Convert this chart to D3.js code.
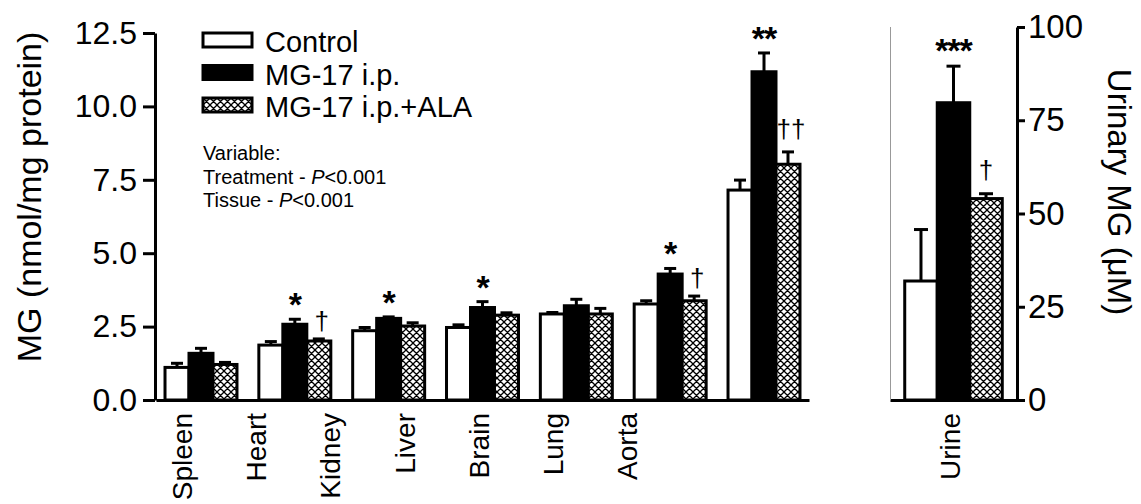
<!DOCTYPE html>
<html>
<head>
<meta charset="utf-8">
<script src="https://cdn.jsdelivr.net/npm/d3@7"></script>
<style>
  body { margin: 0; background: #fff; }
  svg text { font-family: "Liberation Sans", Arial, sans-serif; fill: #000; }
</style>
</head>
<body>
<svg id="chart" width="1141" height="504"></svg>
<script>
// tissue panel (nmol/mg protein)
const tissues = ["Spleen", "Heart", "Kidney", "Liver", "Brain", "Lung", "Aorta"];
const groups = ["Control", "MG-17 i.p.", "MG-17 i.p.+ALA"];
const controlMean = [1.11, 1.87, 2.36, 2.47, 2.93, 3.27, 7.15];
const controlErr  = [0.14, 0.12, 0.11, 0.09, 0.05, 0.11, 0.34];
const mgMean      = [1.59, 2.58, 2.78, 3.15, 3.21, 4.29, 11.18];
const mgErr       = [0.17, 0.17, 0.05, 0.20, 0.22, 0.19, 0.64];
const alaMean     = [1.21, 2.01, 2.52, 2.89, 2.93, 3.38, 8.03];
const alaErr      = [0.07, 0.07, 0.11, 0.08, 0.19, 0.16, 0.42];
const tissueStars   = ["", "*", "*", "*", "", "*", "**"];
const tissueDaggers = ["", "†", "", "", "", "†", "††"];
const leftTicks = [0, 2.5, 5, 7.5, 10, 12.5];

// urine panel (uM)
const urineCats = ["Urine"];
const urineMean = [31.9, 79.7, 54.0];
const urineErr  = [13.8, 9.8, 1.3];
const urineStars = "***";
const urineDagger = "†";
const rightTicks = [0, 25, 50, 75, 100];

const notes = ["Variable:", "Treatment - ", "Tissue - "];

const svg = d3.select("#chart");

// cross hatch for the ALA bars
const pat = svg.append("defs").append("pattern")
  .attr("id", "hatch")
  .attr("patternUnits", "userSpaceOnUse")
  .attr("width", 7).attr("height", 7);
pat.append("rect").attr("width", 7).attr("height", 7).attr("fill", "#fff");
pat.append("path")
  .attr("d", "M0,0L7,7M7,0L0,7M-1,6L1,8M6,-1L8,1")
  .attr("stroke", "#000").attr("stroke-width", 1.3);

const fills = ["#fff", "#000", "url(#hatch)"];

// scales
const y = d3.scaleLinear().domain([0, 12.5]).range([400, 33]);
const x0 = d3.scaleBand().domain(tissues).range([156, 809]).paddingInner(0.233).paddingOuter(0.096);
const x1 = d3.scaleBand().domain(groups).range([0, x0.bandwidth()]);
const xLab = d3.scalePoint().domain(tissues).range([192, 637]);

const yU = d3.scaleLinear().domain([0, 100]).range([400, 27]);
const u0 = d3.scaleBand().domain(urineCats).range([890, 1017]).paddingOuter(0.151);
const u1 = d3.scaleBand().domain(groups).range([0, u0.bandwidth()]);

// build rows
var rows = [];
tissues.forEach(function(t, i) {
  rows.push({cat: t, g: groups[0], v: controlMean[i], e: controlErr[i], k: 0});
  rows.push({cat: t, g: groups[1], v: mgMean[i], e: mgErr[i], k: 1});
  rows.push({cat: t, g: groups[2], v: alaMean[i], e: alaErr[i], k: 2});
});
var urows = groups.map(function(g, k) {
  return {cat: "Urine", g: g, v: urineMean[k], e: urineErr[k], k: k};
});

function drawBars(data, xa, xb, ys, capW) {
  var cx = function(d) { return xa(d.cat) + xb(d.g) + xb.bandwidth() / 2; };
  var eb = svg.append("g").attr("stroke", "#000").attr("stroke-width", 3);
  eb.selectAll(".evert").data(data).join("line")
    .attr("x1", cx).attr("x2", cx)
    .attr("y1", d => ys(d.v)).attr("y2", d => ys(d.v + d.e));
  eb.selectAll(".ecap").data(data).join("line")
    .attr("x1", d => cx(d) - capW / 2).attr("x2", d => cx(d) + capW / 2)
    .attr("y1", d => ys(d.v + d.e)).attr("y2", d => ys(d.v + d.e));
  svg.append("g").selectAll("rect").data(data).join("rect")
    .attr("x", d => xa(d.cat) + xb(d.g))
    .attr("y", d => ys(d.v))
    .attr("width", xb.bandwidth())
    .attr("height", d => ys(0) - ys(d.v))
    .attr("fill", d => fills[d.k])
    .attr("stroke", "#000")
    .attr("stroke-width", 3);
}

drawBars(rows, x0, x1, y, 12);
drawBars(urows, u0, u1, yU, 14);

// significance marks
function capY(ys, v, e) { return ys(v + e); }
svg.append("g").selectAll("text").data(tissues).join("text")
  .attr("x", t => x0(t) + x1(groups[1]) + x1.bandwidth() / 2)
  .attr("y", (t, i) => capY(y, mgMean[i], mgErr[i]) - 3)
  .attr("text-anchor", "middle")
  .attr("font-size", 34).attr("font-weight", "bold").attr("letter-spacing", -1)
  .text((t, i) => tissueStars[i]);
svg.append("g").selectAll("text").data(tissues).join("text")
  .attr("x", t => x0(t) + x1(groups[2]) + x1.bandwidth() / 2 + 3)
  .attr("y", (t, i) => capY(y, alaMean[i], alaErr[i]) - (tissueDaggers[i].length > 1 ? 14 : 9))
  .attr("text-anchor", "middle")
  .attr("font-size", 26)
  .text((t, i) => tissueDaggers[i]);
svg.append("text")
  .attr("x", u0("Urine") + u1(groups[1]) + u1.bandwidth() / 2)
  .attr("y", capY(yU, urineMean[1], urineErr[1]) - 4)
  .attr("text-anchor", "middle")
  .attr("font-size", 34).attr("font-weight", "bold").attr("letter-spacing", -1)
  .text(urineStars);
svg.append("text")
  .attr("x", u0("Urine") + u1(groups[2]) + u1.bandwidth() / 2)
  .attr("y", capY(yU, urineMean[2], urineErr[2]) - 15)
  .attr("text-anchor", "middle")
  .attr("font-size", 26)
  .text(urineDagger);

// axes
function styleAxis(g, fs) {
  g.attr("font-family", "Liberation Sans, Arial, sans-serif").attr("font-size", fs);
  g.selectAll("path, line").attr("stroke", "#000").attr("stroke-width", 3);
}

svg.append("g").attr("transform", "translate(155,0)")
  .call(d3.axisLeft(y).tickValues(leftTicks).tickFormat(d3.format(".1f"))
    .tickSize(12).tickPadding(6).tickSizeOuter(0))
  .call(styleAxis, 32);

svg.append("g").attr("transform", "translate(0,400)")
  .call(d3.axisBottom(x0).tickSize(0).tickFormat("").tickSizeOuter(0))
  .call(styleAxis, 28);

svg.append("g").attr("transform", "translate(0,400)")
  .call(d3.axisBottom(u0).tickSize(0).tickFormat("").tickSizeOuter(0))
  .call(styleAxis, 28);

svg.append("g").attr("transform", "translate(1017,0)")
  .call(d3.axisRight(yU).tickValues(rightTicks).tickSize(8).tickPadding(3).tickSizeOuter(0))
  .call(styleAxis, 33);

// thin left edge of the urine panel
svg.append("line")
  .attr("x1", 890.5).attr("x2", 890.5)
  .attr("y1", yU(100)).attr("y2", yU(0))
  .attr("stroke", "#999").attr("stroke-width", 1);

// category labels
svg.append("g").selectAll("text").data(tissues).join("text")
  .attr("transform", d => "translate(" + xLab(d) + ",413) rotate(-90)")
  .attr("text-anchor", "end")
  .attr("font-size", 28)
  .text(d => d);
svg.append("text")
  .attr("transform", "translate(" + (u0("Urine") + u0.bandwidth() / 2 + 6) + ",413) rotate(-90)")
  .attr("text-anchor", "end")
  .attr("font-size", 28)
  .text(urineCats[0]);

// axis titles
svg.append("text")
  .attr("transform", "translate(41,197) rotate(-90)")
  .attr("text-anchor", "middle")
  .attr("font-size", 34)
  .text("MG (nmol/mg protein)");
svg.append("text")
  .attr("transform", "translate(1108,192) rotate(90)")
  .attr("text-anchor", "middle")
  .attr("font-size", 33)
  .text("Urinary MG (μM)");

// legend
var leg = svg.append("g").attr("transform", "translate(203,0)");
groups.forEach(function(g, k) {
  var by = 52 + k * 32.5;
  leg.append("rect")
    .attr("x", 0).attr("y", by - 19)
    .attr("width", 49).attr("height", 14)
    .attr("fill", fills[k]).attr("stroke", "#000").attr("stroke-width", 3);
  leg.append("text")
    .attr("x", 62).attr("y", by)
    .attr("font-size", 29)
    .text(g);
});

// stats note
var note = svg.append("g").attr("transform", "translate(203,0)").attr("font-size", 20);
note.append("text").attr("y", 160).text(notes[0]);
[1, 2].forEach(function(i) {
  var t = note.append("text").attr("y", 160 + i * 23.6);
  t.append("tspan").text(notes[i]);
  t.append("tspan").attr("font-style", "italic").text("P");
  t.append("tspan").text("<0.001");
});
</script>
</body>
</html>
